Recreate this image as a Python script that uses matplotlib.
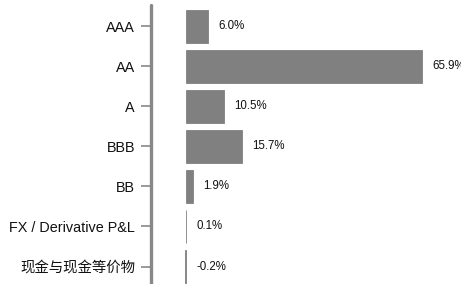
import numpy as np
import matplotlib.pyplot as plt

categories = ['AAA', 'AA', 'A', 'BBB', 'BB', 'FX / Derivative P&L', '现金与现金等价物']
weights = [6.0, 65.9, 10.5, 15.7, 1.9, 0.1, -0.2]
value_labels = ['6.0%', '65.9%', '10.5%', '15.7%', '1.9%', '0.1%', '-0.2%']

fonts = ['Liberation Sans', 'Noto Sans CJK SC', 'DejaVu Sans']
plt.rcParams['font.family'] = fonts

fig = plt.figure(figsize=(4.61, 2.84), dpi=100)
ax = fig.add_axes([151 / 461, 0, 1 - 151 / 461, 279 / 284])

y = np.arange(len(categories))
ax.barh(y, weights, height=0.82, color='#808080', edgecolor='#808080', linewidth=0.6)

# value labels sit just right of the bar end (or of zero for negatives)
for i, (v, lab) in enumerate(zip(weights, value_labels)):
    ax.annotate(lab, (max(v, 0), i), xytext=(7.5, 0), textcoords='offset points',
                va='center', ha='left', fontsize=8.3, color='#111111')

ax.set_xlim(-9.78, 76.8)
ax.set_ylim(6.4375, -0.5375)
ax.set_yticks(y)
ax.set_yticklabels(categories, fontsize=10.4, color='#111111')
ax.tick_params(axis='y', length=7, width=1.2, color='#888888', pad=4.5)
ax.set_xticks([])

for s in ['top', 'right', 'bottom']:
    ax.spines[s].set_visible(False)
ax.spines['left'].set_color('#888888')
ax.spines['left'].set_linewidth(2.4)
ax.spines['left'].set_capstyle('round')

fig.savefig('out.png', dpi=100)
